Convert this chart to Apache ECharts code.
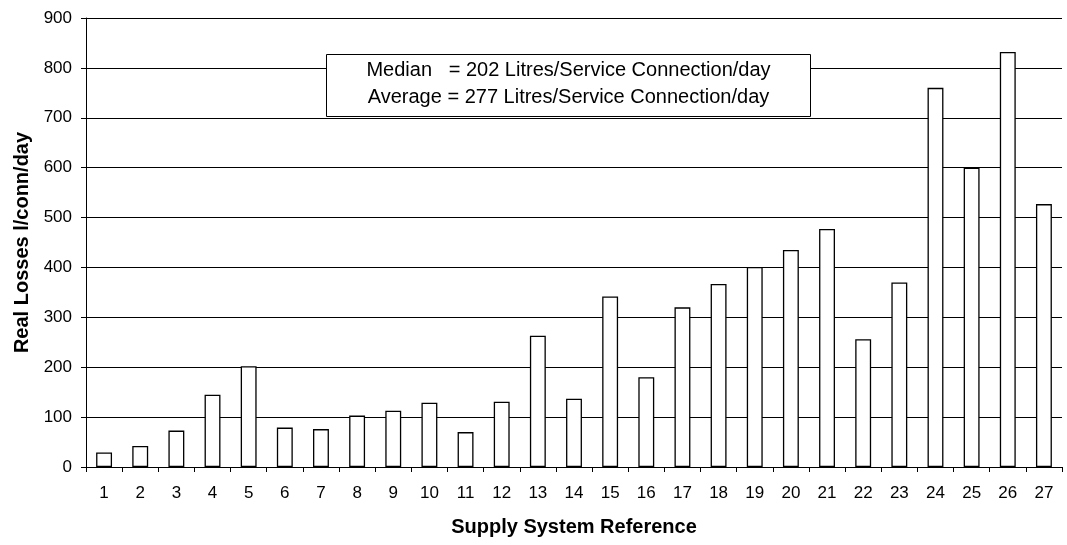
<!DOCTYPE html>
<html lang="en">
<head>
    <meta charset="UTF-8">
    <title>Real Losses per Supply System</title>
    <script src="https://cdn.jsdelivr.net/npm/echarts@6/dist/echarts.min.js"></script>
    <style>
        body {
            padding: 0;
            margin: 0;
            overflow: hidden;
            background: #fff;
        }
        #echart {
            width: 1067px;
            height: 545px;
        }
    </style>
</head>
<body>
<div id="echart"></div>
<script>
// data
const systems = ['1','2','3','4','5','6','7','8','9','10','11','12','13','14','15','16','17','18','19','20','21','22','23','24','25','26','27'];
const realLosses = [29, 42, 73, 145, 202, 79, 76, 103, 113, 129, 70, 131, 263, 137, 342, 180, 320, 367, 401, 435, 477, 256, 370, 760, 600, 832, 527];
const noteLines = [
    'Median   = 202 Litres/Service Connection/day',
    'Average = 277 Litres/Service Connection/day'
];

const font = '"Liberation Sans", Arial, sans-serif';
const ec = echarts.init(document.getElementById('echart'));

ec.setOption({
    animation: false,
    textStyle: { fontFamily: font },
    grid: {
        left: 86,
        right: 5,
        top: 18,
        bottom: 78
    },
    xAxis: {
        type: 'category',
        data: systems,
        name: 'Supply System Reference',
        nameLocation: 'middle',
        nameGap: 50,
        nameTextStyle: { fontFamily: font, fontSize: 20, fontWeight: 'bold', color: '#000' },
        axisLine: { lineStyle: { color: '#000', width: 1 } },
        axisTick: { show: true, length: 5, lineStyle: { color: '#000' } },
        axisLabel: { fontFamily: font, fontSize: 17, color: '#000', margin: 18 }
    },
    yAxis: {
        type: 'value',
        min: 0,
        max: 900,
        interval: 100,
        name: 'Real Losses l/conn/day',
        nameLocation: 'middle',
        nameGap: 54,
        nameTextStyle: { fontFamily: font, fontSize: 20, fontWeight: 'bold', color: '#000' },
        axisLine: { show: true, lineStyle: { color: '#000', width: 1 } },
        axisTick: { show: true, length: 5, lineStyle: { color: '#000' } },
        axisLabel: { fontFamily: font, fontSize: 17, color: '#000', margin: 14 },
        splitLine: { show: true, lineStyle: { color: '#000', width: 1 } }
    },
    series: [{
        type: 'bar',
        data: realLosses,
        barWidth: '44%',
        itemStyle: {
            color: '#fff',
            borderColor: '#000',
            borderWidth: 1.3
        }
    }],
    graphic: [{
        type: 'group',
        left: 326,
        top: 54,
        z: 100,
        children: [{
            type: 'rect',
            z: 100,
            shape: { x: 0, y: 0, width: 484, height: 62 },
            style: { fill: '#fff', stroke: '#000', lineWidth: 1 }
        }, {
            type: 'text',
            z: 101,
            x: 242,
            y: 16,
            style: {
                text: noteLines[0],
                font: '20px ' + font,
                fill: '#000',
                align: 'center',
                verticalAlign: 'middle'
            }
        }, {
            type: 'text',
            z: 101,
            x: 242,
            y: 43,
            style: {
                text: noteLines[1],
                font: '20px ' + font,
                fill: '#000',
                align: 'center',
                verticalAlign: 'middle'
            }
        }]
    }]
});
</script>
</body>
</html>
